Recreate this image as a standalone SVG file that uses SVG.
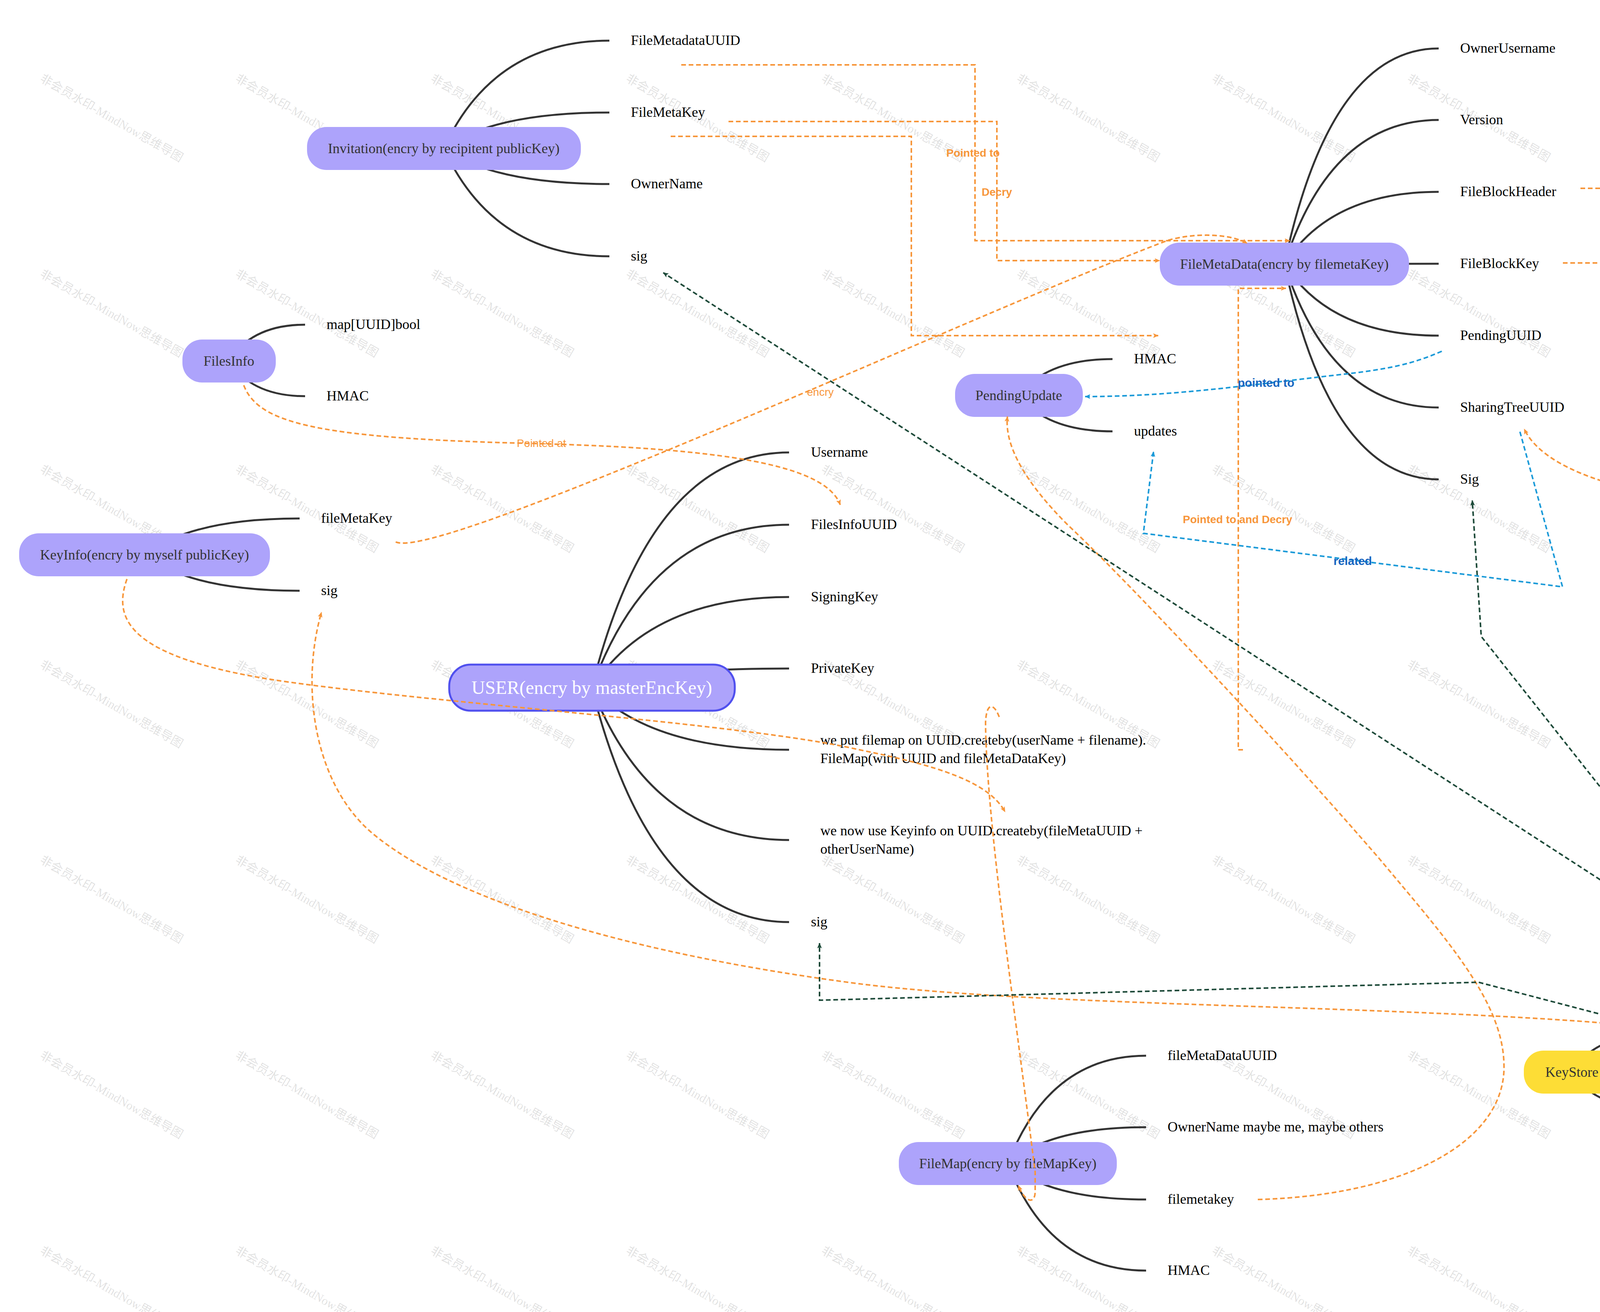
<svg xmlns="http://www.w3.org/2000/svg" xmlns:xlink="http://www.w3.org/1999/xlink" width="6656" height="3358" viewBox="0 0 6656 3358">
<style>
.pill{fill:#ada3fb}
.nt{font-family:"Liberation Serif","Times New Roman",serif;font-size:36px;fill:#333;text-anchor:middle}
.ct{font-family:"Liberation Serif","Times New Roman",serif;font-size:36px;fill:#000}
.br{fill:none;stroke:#333;stroke-width:5}
.lk{fill:none;stroke-width:4;stroke-dasharray:12 7}
.o{stroke:#f7963a}
.g{stroke:#1d4a39}
.b{stroke:#1a9ad8}
.lab{font-family:"Liberation Sans",Arial,sans-serif;font-size:28px;font-weight:bold;fill:#f7963a;text-anchor:middle}
.labr{font-family:"Liberation Sans",Arial,sans-serif;font-size:28px;fill:#f7963a;text-anchor:middle}
.labb{font-family:"Liberation Sans",Arial,sans-serif;font-size:30px;font-weight:bold;fill:#1565c0;text-anchor:middle}
.wm{font-family:"Liberation Serif","Noto Sans CJK SC",serif;font-size:31px;fill:#000;fill-opacity:0.12}
</style>
<defs>
<marker id="ao" viewBox="0 0 14 12" refX="13" refY="6" markerWidth="14" markerHeight="12" markerUnits="userSpaceOnUse" orient="auto"><path d="M0,0 L14,6 L0,12 L3,6 z" fill="#f7963a"/></marker>
<marker id="ag" viewBox="0 0 14 12" refX="13" refY="6" markerWidth="14" markerHeight="12" markerUnits="userSpaceOnUse" orient="auto"><path d="M0,0 L14,6 L0,12 L3,6 z" fill="#1d4a39"/></marker>
<marker id="ab" viewBox="0 0 14 12" refX="13" refY="6" markerWidth="14" markerHeight="12" markerUnits="userSpaceOnUse" orient="auto"><path d="M0,0 L14,6 L0,12 L3,6 z" fill="#1a9ad8"/></marker>
<text id="wm" class="wm" x="100" y="207" transform="rotate(30 100 207)">非会员水印-MindNow思维导图</text>
</defs>
<rect width="6656" height="3358" fill="#fff"/>
<g id="watermarks">
<use xlink:href="#wm" x="0" y="0"/><use xlink:href="#wm" x="500" y="0"/><use xlink:href="#wm" x="1000" y="0"/><use xlink:href="#wm" x="1500" y="0"/><use xlink:href="#wm" x="2000" y="0"/><use xlink:href="#wm" x="2500" y="0"/><use xlink:href="#wm" x="3000" y="0"/><use xlink:href="#wm" x="3500" y="0"/><use xlink:href="#wm" x="4000" y="0"/><use xlink:href="#wm" x="4500" y="0"/><use xlink:href="#wm" x="5000" y="0"/><use xlink:href="#wm" x="5500" y="0"/><use xlink:href="#wm" x="6000" y="0"/><use xlink:href="#wm" x="6500" y="0"/>
<use xlink:href="#wm" x="0" y="500"/><use xlink:href="#wm" x="500" y="500"/><use xlink:href="#wm" x="1000" y="500"/><use xlink:href="#wm" x="1500" y="500"/><use xlink:href="#wm" x="2000" y="500"/><use xlink:href="#wm" x="2500" y="500"/><use xlink:href="#wm" x="3000" y="500"/><use xlink:href="#wm" x="3500" y="500"/><use xlink:href="#wm" x="4000" y="500"/><use xlink:href="#wm" x="4500" y="500"/><use xlink:href="#wm" x="5000" y="500"/><use xlink:href="#wm" x="5500" y="500"/><use xlink:href="#wm" x="6000" y="500"/><use xlink:href="#wm" x="6500" y="500"/>
<use xlink:href="#wm" x="0" y="1000"/><use xlink:href="#wm" x="500" y="1000"/><use xlink:href="#wm" x="1000" y="1000"/><use xlink:href="#wm" x="1500" y="1000"/><use xlink:href="#wm" x="2000" y="1000"/><use xlink:href="#wm" x="2500" y="1000"/><use xlink:href="#wm" x="3000" y="1000"/><use xlink:href="#wm" x="3500" y="1000"/><use xlink:href="#wm" x="4000" y="1000"/><use xlink:href="#wm" x="4500" y="1000"/><use xlink:href="#wm" x="5000" y="1000"/><use xlink:href="#wm" x="5500" y="1000"/><use xlink:href="#wm" x="6000" y="1000"/><use xlink:href="#wm" x="6500" y="1000"/>
<use xlink:href="#wm" x="0" y="1500"/><use xlink:href="#wm" x="500" y="1500"/><use xlink:href="#wm" x="1000" y="1500"/><use xlink:href="#wm" x="1500" y="1500"/><use xlink:href="#wm" x="2000" y="1500"/><use xlink:href="#wm" x="2500" y="1500"/><use xlink:href="#wm" x="3000" y="1500"/><use xlink:href="#wm" x="3500" y="1500"/><use xlink:href="#wm" x="4000" y="1500"/><use xlink:href="#wm" x="4500" y="1500"/><use xlink:href="#wm" x="5000" y="1500"/><use xlink:href="#wm" x="5500" y="1500"/><use xlink:href="#wm" x="6000" y="1500"/><use xlink:href="#wm" x="6500" y="1500"/>
<use xlink:href="#wm" x="0" y="2000"/><use xlink:href="#wm" x="500" y="2000"/><use xlink:href="#wm" x="1000" y="2000"/><use xlink:href="#wm" x="1500" y="2000"/><use xlink:href="#wm" x="2000" y="2000"/><use xlink:href="#wm" x="2500" y="2000"/><use xlink:href="#wm" x="3000" y="2000"/><use xlink:href="#wm" x="3500" y="2000"/><use xlink:href="#wm" x="4000" y="2000"/><use xlink:href="#wm" x="4500" y="2000"/><use xlink:href="#wm" x="5000" y="2000"/><use xlink:href="#wm" x="5500" y="2000"/><use xlink:href="#wm" x="6000" y="2000"/><use xlink:href="#wm" x="6500" y="2000"/>
<use xlink:href="#wm" x="0" y="2500"/><use xlink:href="#wm" x="500" y="2500"/><use xlink:href="#wm" x="1000" y="2500"/><use xlink:href="#wm" x="1500" y="2500"/><use xlink:href="#wm" x="2000" y="2500"/><use xlink:href="#wm" x="2500" y="2500"/><use xlink:href="#wm" x="3000" y="2500"/><use xlink:href="#wm" x="3500" y="2500"/><use xlink:href="#wm" x="4000" y="2500"/><use xlink:href="#wm" x="4500" y="2500"/><use xlink:href="#wm" x="5000" y="2500"/><use xlink:href="#wm" x="5500" y="2500"/><use xlink:href="#wm" x="6000" y="2500"/><use xlink:href="#wm" x="6500" y="2500"/>
<use xlink:href="#wm" x="0" y="3000"/><use xlink:href="#wm" x="500" y="3000"/><use xlink:href="#wm" x="1000" y="3000"/><use xlink:href="#wm" x="1500" y="3000"/><use xlink:href="#wm" x="2000" y="3000"/><use xlink:href="#wm" x="2500" y="3000"/><use xlink:href="#wm" x="3000" y="3000"/><use xlink:href="#wm" x="3500" y="3000"/><use xlink:href="#wm" x="4000" y="3000"/><use xlink:href="#wm" x="4500" y="3000"/><use xlink:href="#wm" x="5000" y="3000"/><use xlink:href="#wm" x="5500" y="3000"/><use xlink:href="#wm" x="6000" y="3000"/><use xlink:href="#wm" x="6500" y="3000"/>
</g>
<g id="branches">
<path class="br" d="M1136,380 Q1263,104 1560,104"/>
<path class="br" d="M1136,380 Q1263,288 1560,288"/>
<path class="br" d="M1136,380 Q1263,471 1560,471"/>
<path class="br" d="M1136,380 Q1263,656 1560,656"/>
<path class="br" d="M586,924 Q645,831 781,831"/>
<path class="br" d="M586,924 Q645,1014 781,1014"/>
<path class="br" d="M370,1420 Q489,1327 767,1327"/>
<path class="br" d="M370,1420 Q489,1512 767,1512"/>
<path class="br" d="M1515,1760 Q1666,1158 2020,1158"/>
<path class="br" d="M1515,1760 Q1666,1343 2020,1343"/>
<path class="br" d="M1515,1760 Q1666,1528 2020,1528"/>
<path class="br" d="M1515,1760 Q1666,1711 2020,1711"/>
<path class="br" d="M1515,1760 Q1666,1919 2020,1919"/>
<path class="br" d="M1515,1760 Q1666,2150 2020,2150"/>
<path class="br" d="M1515,1760 Q1666,2360 2020,2360"/>
<path class="br" d="M2608,1012 Q2680,919 2848,919"/>
<path class="br" d="M2608,1012 Q2680,1104 2848,1104"/>
<path class="br" d="M3288,676 Q3406,124 3683,124"/>
<path class="br" d="M3288,676 Q3406,307 3683,307"/>
<path class="br" d="M3288,676 Q3406,491 3683,491"/>
<path class="br" d="M3288,676 Q3406,675 3683,675"/>
<path class="br" d="M3288,676 Q3406,859 3683,859"/>
<path class="br" d="M3288,676 Q3406,1043 3683,1043"/>
<path class="br" d="M3288,676 Q3406,1227 3683,1227"/>
<path class="br" d="M4732,734 Q4810,457 4993,457"/>
<path class="br" d="M4732,734 Q4810,641 4993,641"/>
<path class="br" d="M4732,734 Q4810,825 4993,825"/>
<path class="br" d="M4732,734 Q4810,1009 4993,1009"/>
<path class="br" d="M6080,704 Q6156,520 6335,520"/>
<path class="br" d="M6080,704 Q6156,704 6335,704"/>
<path class="br" d="M6080,704 Q6156,887 6335,887"/>
<path class="br" d="M4758,1512 Q4822,1419 4973,1419"/>
<path class="br" d="M4758,1512 Q4822,1602 4973,1602"/>
<path class="br" d="M2580,2978 Q2686,2702 2934,2702"/>
<path class="br" d="M2580,2978 Q2686,2885 2934,2885"/>
<path class="br" d="M2580,2978 Q2686,3070 2934,3070"/>
<path class="br" d="M2580,2978 Q2686,3252 2934,3252"/>
<path class="br" d="M4024,2744 Q4083,2650 4221,2650"/>
<path class="br" d="M4024,2744 Q4083,2835 4221,2835"/>
</g>
<g id="n-invitation"><rect class="pill" x="786" y="325" width="701" height="110" rx="50"/><text class="nt" x="1136" y="392">Invitation(encry by recipitent publicKey)</text></g>
<g id="n-inv-filemetadatauuid"><text class="ct" x="1615" y="115">FileMetadataUUID</text></g>
<g id="n-inv-filemetakey"><text class="ct" x="1615" y="299">FileMetaKey</text></g>
<g id="n-inv-ownername"><text class="ct" x="1615" y="482">OwnerName</text></g>
<g id="n-inv-sig"><text class="ct" x="1615" y="667">sig</text></g>
<g id="n-filesinfo"><rect class="pill" x="467" y="869" width="239" height="110" rx="50"/><text class="nt" x="586" y="936">FilesInfo</text></g>
<g id="n-fi-map"><text class="ct" x="836" y="842">map[UUID]bool</text></g>
<g id="n-fi-hmac"><text class="ct" x="836" y="1025">HMAC</text></g>
<g id="n-keyinfo"><rect class="pill" x="49" y="1365" width="642" height="110" rx="50"/><text class="nt" x="370" y="1432">KeyInfo(encry by myself publicKey)</text></g>
<g id="n-ki-filemetakey"><text class="ct" x="822" y="1338">fileMetaKey</text></g>
<g id="n-ki-sig"><text class="ct" x="822" y="1523">sig</text></g>
<g id="n-user"><rect class="pill" x="1150" y="1701" width="731" height="118" rx="55" stroke="#5050ee" stroke-width="5"/><text class="nt" x="1515" y="1776" style="font-size:48px;fill:#fff">USER(encry by masterEncKey)</text></g>
<g id="n-user-username"><text class="ct" x="2076" y="1169">Username</text></g>
<g id="n-user-filesinfouuid"><text class="ct" x="2076" y="1354">FilesInfoUUID</text></g>
<g id="n-user-signingkey"><text class="ct" x="2076" y="1539">SigningKey</text></g>
<g id="n-user-privatekey"><text class="ct" x="2076" y="1722">PrivateKey</text></g>
<g id="n-user-filemap"><text class="ct" x="2100" y="1906">we put filemap on UUID.createby(userName + filename).</text><text class="ct" x="2100" y="1953">FileMap(with UUID and fileMetaDataKey)</text></g>
<g id="n-user-keyinfo"><text class="ct" x="2100" y="2138">we now use Keyinfo on UUID.createby(fileMetaUUID +</text><text class="ct" x="2100" y="2185">otherUserName)</text></g>
<g id="n-user-sig"><text class="ct" x="2076" y="2371">sig</text></g>
<g id="n-pendingupdate"><rect class="pill" x="2445" y="957" width="327" height="110" rx="50"/><text class="nt" x="2608" y="1024">PendingUpdate</text></g>
<g id="n-pu-hmac"><text class="ct" x="2903" y="930">HMAC</text></g>
<g id="n-pu-updates"><text class="ct" x="2903" y="1115">updates</text></g>
<g id="n-filemetadata"><rect class="pill" x="2969" y="621" width="638" height="110" rx="50"/><text class="nt" x="3288" y="688">FileMetaData(encry by filemetaKey)</text></g>
<g id="n-fmd-ownerusername"><text class="ct" x="3738" y="135">OwnerUsername</text></g>
<g id="n-fmd-version"><text class="ct" x="3738" y="318">Version</text></g>
<g id="n-fmd-fileblockheader"><text class="ct" x="3738" y="502">FileBlockHeader</text></g>
<g id="n-fmd-fileblockkey"><text class="ct" x="3738" y="686">FileBlockKey</text></g>
<g id="n-fmd-pendinguuid"><text class="ct" x="3738" y="870">PendingUUID</text></g>
<g id="n-fmd-sharingtreeuuid"><text class="ct" x="3738" y="1054">SharingTreeUUID</text></g>
<g id="n-fmd-sig"><text class="ct" x="3738" y="1238">Sig</text></g>
<g id="n-fileblockheader"><rect class="pill" x="4547" y="679" width="371" height="110" rx="50"/><text class="nt" x="4732" y="746">File Block Header</text></g>
<g id="n-fbh-firstuuid"><text class="ct" x="5048" y="468">FirstUUID</text></g>
<g id="n-fbh-lastuuid"><text class="ct" x="5048" y="652">LastUUID</text></g>
<g id="n-fbh-filecontentkey"><text class="ct" x="5048" y="836">FileContentKey</text></g>
<g id="n-fbh-hmac"><text class="ct" x="5048" y="1020">HMAC</text></g>
<g id="n-filecontentblock"><rect class="pill" x="5898" y="649" width="365" height="110" rx="50"/><text class="nt" x="6080" y="716">FileContentBlock</text></g>
<g id="n-fcb-content"><text class="ct" x="6391" y="531">Content</text></g>
<g id="n-fcb-nextuuid"><text class="ct" x="6391" y="715">NextUUID</text></g>
<g id="n-fcb-hmac"><text class="ct" x="6391" y="898">HMAC</text></g>
<g id="n-sharingtree"><rect class="pill" x="4619" y="1457" width="279" height="110" rx="50"/><text class="nt" x="4758" y="1524">sharingTree</text></g>
<g id="n-st-tree"><text class="ct" x="5028" y="1430">tree( Map[string][]string)</text></g>
<g id="n-st-hmac"><text class="ct" x="5028" y="1613">HMAC</text></g>
<g id="n-filemap"><rect class="pill" x="2301" y="2923" width="558" height="110" rx="50"/><text class="nt" x="2580" y="2990">FileMap(encry by fileMapKey)</text></g>
<g id="n-fm-filemetadatauuid"><text class="ct" x="2989" y="2713">fileMetaDataUUID</text></g>
<g id="n-fm-ownername"><text class="ct" x="2989" y="2896">OwnerName maybe me, maybe others</text></g>
<g id="n-fm-filemetakey"><text class="ct" x="2989" y="3081">filemetakey</text></g>
<g id="n-fm-hmac"><text class="ct" x="2989" y="3263">HMAC</text></g>
<g id="n-keystore"><rect x="3901" y="2689" width="245" height="110" rx="50" fill="#fddd36"/><text class="nt" x="4024" y="2756">KeyStore</text></g>
<g id="n-ks-value"><text class="ct" x="4276" y="2661">Value</text></g>
<g id="n-ks-name"><text class="ct" x="4276" y="2846">Name</text></g>
<g id="connectors">
<path class="lk o" marker-end="url(#ao)" d="M1744,166 L2496,166 L2496,616 L3302,616"/>
<path class="lk o" marker-end="url(#ao)" d="M1865,311 L2552,311 L2552,667 L2969,667"/>
<path class="lk o" marker-end="url(#ao)" d="M1717,349 L2333,349 L2333,859 L2965,859"/>
<path class="lk o" marker-end="url(#ao)" d="M4046,482 L4565,482 L4565,673 L4724,673"/>
<path class="lk o" marker-end="url(#ao)" d="M4001,673 L4724,673"/>
<path class="lk o" marker-end="url(#ao)" d="M5124,398 L5597,398 L5597,643 L6084,643"/>
<path class="lk o" marker-end="url(#ao)" d="M5124,580 C5130,470 6040,460 6084,643"/>
<path class="lk o" marker-end="url(#ao)" d="M5340,833 L5623,833 L5623,725 L5907,725"/>
<path class="lk o" marker-end="url(#ao)" d="M624,986 C660,1080 800,1120 1323,1134 C1800,1145 2110,1180 2151,1292"/>
<path class="lk o" marker-end="url(#ao)" d="M1013,1387 C1120,1440 2500,800 2990,615 C3060,595 3150,598 3193,623"/>
<path class="lk o" marker-end="url(#ao)" d="M325,1482 C290,1580 320,1680 700,1740 C1100,1800 1900,1850 2200,1919 C2400,1960 2530,2000 2573,2078"/>
<path class="lk o" marker-end="url(#ao)" d="M2558,1835 C2545,1800 2525,1795 2523,1850 C2525,2100 2600,2600 2650,3000 L2650,3050 C2650,3082 2625,3080 2607,3034"/>
<path class="lk o" marker-end="url(#ao)" d="M3220,3070 C3600,3060 3860,2920 3850,2720 C3845,2560 3700,2400 3533,2200 C3300,1930 2900,1500 2733,1343 C2640,1250 2570,1150 2579,1066"/>
<path class="lk o" marker-end="url(#ao)" d="M3182,1919 L3170,1919 L3170,738 L3292,738"/>
<path class="lk o" marker-end="url(#ao)" d="M4728,1452 C4700,1330 4600,1300 4400,1285 C4150,1265 3950,1200 3902,1098"/>
<path class="lk o" marker-end="url(#ao)" d="M4220,2628 C3600,2570 2700,2580 2200,2518 C1600,2440 1150,2300 950,2130 C800,2000 770,1750 823,1567"/>
<path class="lk g" marker-end="url(#ag)" d="M4291,2591 L4148,2285 L1698,698"/>
<path class="lk g" marker-end="url(#ag)" d="M4313,2591 L4287,2255 L3792,1629 L3769,1281"/>
<path class="lk g" marker-end="url(#ag)" d="M4220,2628 L3785,2514 L2098,2560 L2098,2414"/>
<path class="lk b" marker-end="url(#ab)" d="M3691,899 C3620,930 3560,945 3420,960 C3200,985 3000,1015 2778,1015"/>
<path class="lk b" marker-end="url(#ab)" d="M3891,1105 L4000,1502 L2927,1365 L2953,1156"/>
<text class="lab" x="2491" y="401">Pointed to</text>
<text class="lab" x="2552" y="501">Decry</text>
<text class="labr" x="2100" y="1013">encry</text>
<text class="labr" x="1386" y="1144">Pointed at</text>
<text class="labb" x="3241" y="990">pointed to</text>
<text class="labb" x="3463" y="1446">related</text>
<text class="lab" x="3168" y="1339">Pointed to and Decry</text>
<text class="lab" x="4565" y="493">Pointed to</text>
<text class="lab" x="4468" y="683">Decry</text>
<text class="lab" x="5598" y="531">Pointed at</text>
<text class="lab" x="5623" y="791">Decry</text>
</g>
</svg>
